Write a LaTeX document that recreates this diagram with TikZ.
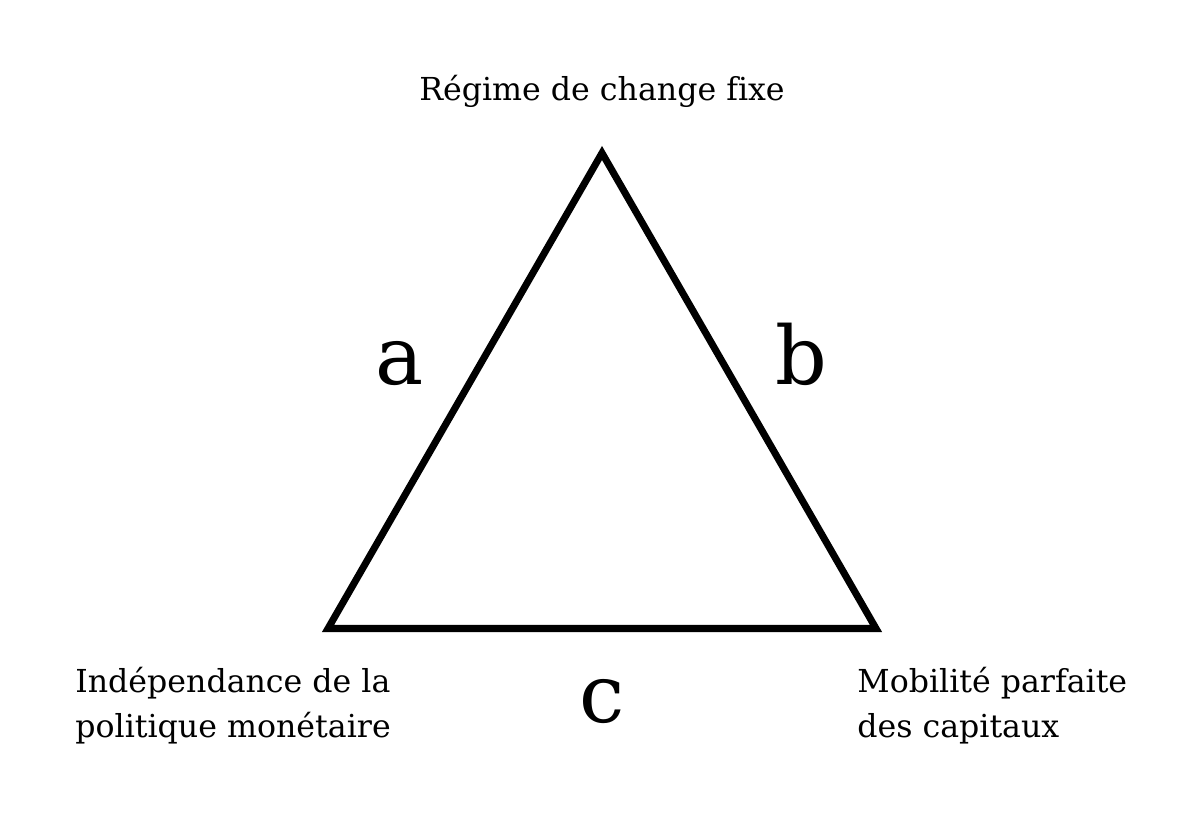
\documentclass[tikz,border=0pt]{standalone}
\usepackage{fontspec}
\setmainfont{DejaVu Serif}[Ligatures=NoCommon]
\usepackage{tikz}
\usetikzlibrary{positioning}

\begin{document}
\begin{tikzpicture}[
    corner/.style={inner sep=0pt, align=left, font=\fontsize{18}{25.5}\selectfont},
    side/.style={inner sep=0pt, font=\fontsize{46}{52}\selectfont},
    edge/.style={line width=4pt, line join=miter}
]
\useasboundingbox (0,0) rectangle (24,16.3);

\coordinate (fixe) at (12.04, 13.24);
\coordinate (indep) at (6.56, 3.73);
\coordinate (mobil) at (17.52, 3.73);

\node[corner, anchor=base] (regime) at (12.04, 14.28) {Régime de change fixe};
\node[corner, anchor=base west] (politique) at (1.5, 1.56) {Indépendance de la\\politique monétaire};
\node[corner, anchor=base west] (capitaux) at (17.14, 1.56) {Mobilité parfaite\\des capitaux};

\node[side, anchor=base] (a) at (8.0, 8.62) {a};
\node[side, anchor=base] (b) at (16.02, 8.62) {b};
\node[side, anchor=base] (c) at (12.04, 1.86) {c};

\draw[edge] (fixe) -- (mobil) -- (indep) -- cycle;

\end{tikzpicture}
\end{document}
